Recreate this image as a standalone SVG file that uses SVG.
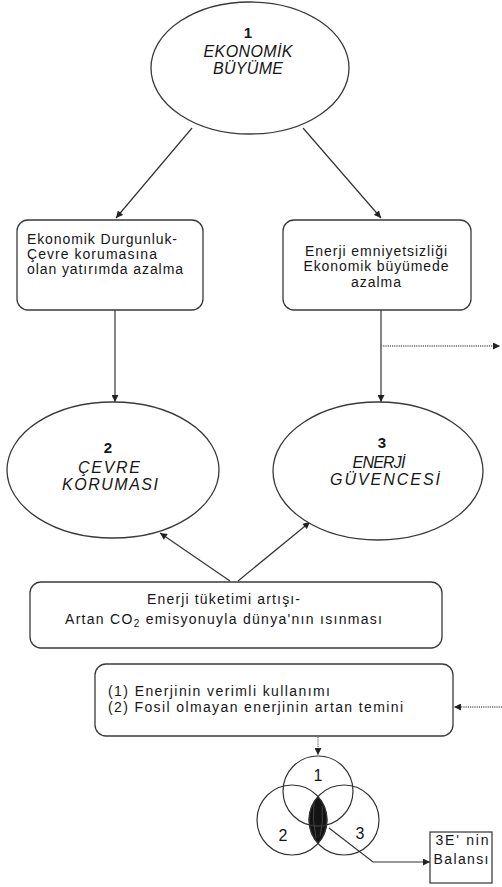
<svg xmlns="http://www.w3.org/2000/svg" width="502" height="887" viewBox="0 0 502 887">
  <style>
    .shape { fill: #ffffff; stroke: #3a3a3a; stroke-width: 1.3; }
    .edge { fill: none; stroke: #333333; stroke-width: 1.2; }
    .dot { fill: none; stroke: #6a6a6a; stroke-width: 1.3; stroke-dasharray: 1.2 1; }
    .txt { font-family: "Liberation Sans", Arial, sans-serif; font-size: 14px; fill: #161616; }
    .title { font-family: "Liberation Sans", Arial, sans-serif; font-size: 16px; font-style: italic; fill: #161616; text-anchor: middle; }
    .num { font-family: "Liberation Sans", Arial, sans-serif; font-size: 15px; font-weight: bold; fill: #161616; text-anchor: middle; }
    .venn { fill: none; stroke: #333333; stroke-width: 1.2; }
    .vlabel { font-family: "Liberation Sans", Arial, sans-serif; font-size: 16px; fill: #161616; text-anchor: middle; }
  </style>
  <defs>
    <marker id="arrow" viewBox="0 0 10 10" refX="10" refY="5" markerWidth="8" markerHeight="7" markerUnits="userSpaceOnUse" orient="auto">
      <path d="M0,0 L10,5 L0,10 Z" fill="#222222"/>
    </marker>
  </defs>
  <rect width="502" height="887" fill="#ffffff"/>

  <!-- connectors -->
  <g id="connectors">
    <line class="edge" x1="192" y1="128" x2="116" y2="218" marker-end="url(#arrow)"/>
    <line class="edge" x1="303" y1="128" x2="381" y2="218" marker-end="url(#arrow)"/>
    <line class="edge" x1="115" y1="310" x2="115" y2="402" marker-end="url(#arrow)"/>
    <line class="edge" x1="381" y1="310" x2="381" y2="402" marker-end="url(#arrow)"/>
    <line class="dot" x1="381" y1="346" x2="500" y2="346" marker-end="url(#arrow)"/>
    <line class="edge" x1="230" y1="581" x2="160" y2="533" marker-end="url(#arrow)"/>
    <line class="edge" x1="238" y1="581" x2="310" y2="522" marker-end="url(#arrow)"/>
    <line class="dot" x1="502" y1="707" x2="454" y2="707" marker-end="url(#arrow)"/>
    <line class="dot" x1="318" y1="737" x2="318" y2="755" marker-end="url(#arrow)"/>
    <polyline class="edge" points="329,828 373,862 430,862" marker-end="url(#arrow)"/>
  </g>

  <!-- 1: economic growth -->
  <g id="node-ekonomik-buyume">
    <ellipse class="shape" cx="250" cy="68" rx="99" ry="66"/>
    <text class="num" x="248" y="38">1</text>
    <text class="title" x="248" y="57" textLength="89" lengthAdjust="spacing">EKONOMİK</text>
    <text class="title" x="248" y="74" textLength="70" lengthAdjust="spacing">BÜYÜME</text>
  </g>

  <!-- left consequence box -->
  <g id="node-ekonomik-durgunluk">
    <rect class="shape" x="17" y="220" width="186" height="90" rx="11"/>
    <text class="txt" x="27" y="244" textLength="150" lengthAdjust="spacing">Ekonomik Durgunluk-</text>
    <text class="txt" x="27" y="259" textLength="130" lengthAdjust="spacing">Çevre korumasına</text>
    <text class="txt" x="27" y="274" textLength="156" lengthAdjust="spacing">olan yatırımda azalma</text>
  </g>

  <!-- right consequence box -->
  <g id="node-enerji-emniyetsizligi">
    <rect class="shape" x="283" y="220" width="188" height="90" rx="11"/>
    <text class="txt" x="376" y="256" text-anchor="middle" textLength="142" lengthAdjust="spacing">Enerji emniyetsizliği</text>
    <text class="txt" x="376" y="271" text-anchor="middle" textLength="145" lengthAdjust="spacing">Ekonomik büyümede</text>
    <text class="txt" x="376" y="287" text-anchor="middle" textLength="50" lengthAdjust="spacing">azalma</text>
  </g>

  <!-- 2: environmental protection -->
  <g id="node-cevre-korumasi">
    <ellipse class="shape" cx="113" cy="470" rx="106" ry="68"/>
    <text class="num" x="108" y="453">2</text>
    <text class="title" x="109" y="473" textLength="62" lengthAdjust="spacing">ÇEVRE</text>
    <text class="title" x="110" y="490" textLength="96" lengthAdjust="spacing">KORUMASI</text>
  </g>

  <!-- 3: energy security -->
  <g id="node-enerji-guvencesi">
    <ellipse class="shape" cx="378" cy="471" rx="105" ry="69"/>
    <text class="num" x="382" y="448">3</text>
    <text class="title" x="379" y="468" textLength="53" lengthAdjust="spacing">ENERJİ</text>
    <text class="title" x="385" y="485" textLength="110" lengthAdjust="spacing">GÜVENCESİ</text>
  </g>

  <!-- energy consumption box -->
  <g id="node-enerji-tuketimi">
    <rect class="shape" x="30" y="582" width="412" height="66" rx="11"/>
    <text class="txt" x="147" y="604" textLength="153" lengthAdjust="spacing">Enerji tüketimi artışı-</text>
    <text class="txt" x="65" y="624" textLength="317" lengthAdjust="spacing">Artan CO<tspan font-size="10" dy="3">2</tspan><tspan dy="-3"> emisyonuyla dünya'nın ısınması</tspan></text>
  </g>

  <!-- measures box -->
  <g id="node-cozumler">
    <rect class="shape" x="95" y="664" width="358" height="72" rx="11"/>
    <text class="txt" x="108" y="696" textLength="222" lengthAdjust="spacing">(1)  Enerjinin verimli kullanımı</text>
    <text class="txt" x="108" y="712" textLength="295" lengthAdjust="spacing">(2)  Fosil olmayan enerjinin artan temini</text>
  </g>

  <!-- three overlapping circles -->
  <g id="node-venn">
    <path d="M318,796.6 A35,35 0 0 0 318,843.4 A35,35 0 0 0 318,796.6 Z" fill="#141414" stroke="#222222" stroke-width="1"/>
    <path d="M314,803 Q312,820 316,838 M322,806 Q324,822 320,836 M313,826 L323,826" fill="none" stroke="#555555" stroke-width="0.7"/>
    <circle class="venn" cx="318" cy="791" r="35"/>
    <circle class="venn" cx="292" cy="820" r="35"/>
    <circle class="venn" cx="344" cy="820" r="35"/>
    <text class="vlabel" x="318" y="781">1</text>
    <text class="vlabel" x="283" y="841">2</text>
    <text class="vlabel" x="360" y="839">3</text>
  </g>

  <!-- balance box -->
  <g id="node-3e-balansi">
    <rect x="430" y="832" width="62" height="51" fill="#ffffff" stroke="#333333" stroke-width="1.2"/>
    <text class="txt" x="462" y="845" text-anchor="middle" textLength="53" lengthAdjust="spacing">3E' nin</text>
    <text class="txt" x="461" y="864" text-anchor="middle" textLength="55" lengthAdjust="spacing">Balansı</text>
  </g>
</svg>
